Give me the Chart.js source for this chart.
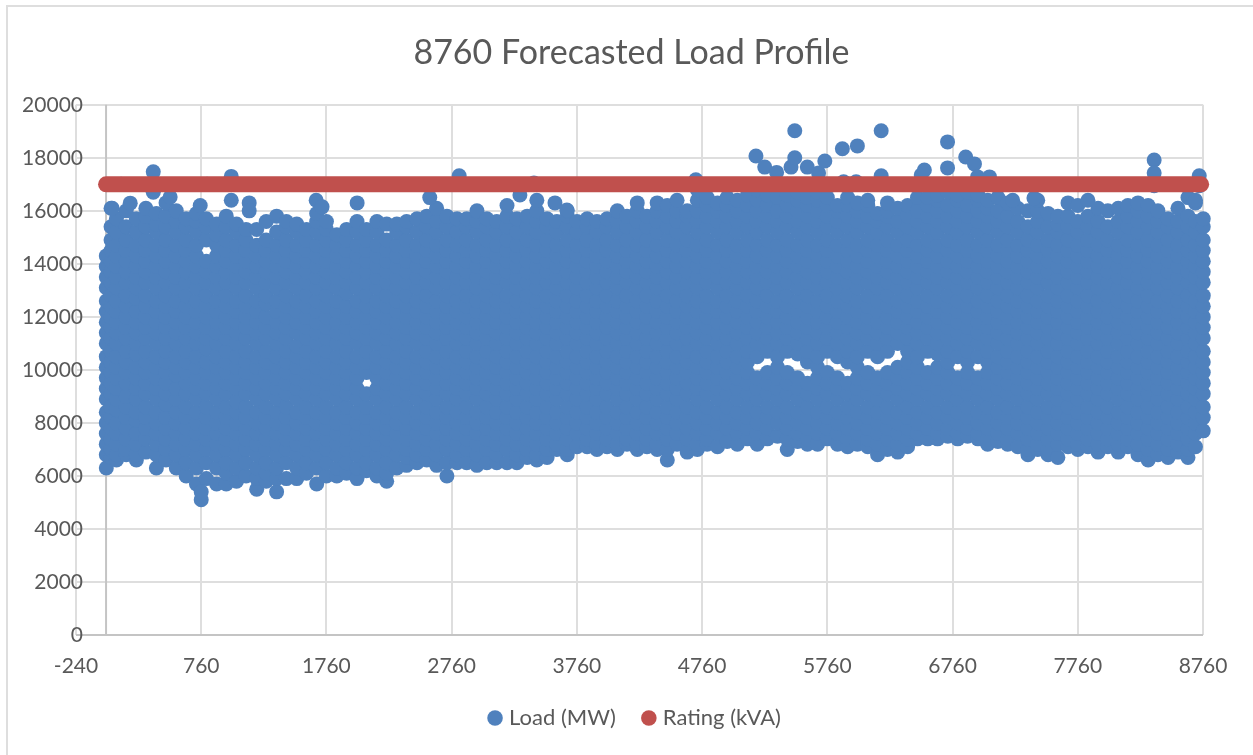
<!DOCTYPE html>
<html>
<head>
<meta charset="utf-8">
<title>8760 Forecasted Load Profile</title>
<script src="https://cdn.jsdelivr.net/npm/chart.js@4"></script>
<style>
html, body { margin: 0; padding: 0; background: #fff; overflow: hidden; }
canvas { display: block; }
</style>
</head>
<body>
<canvas id="chart1" width="1253" height="755"></canvas>
<script>
// hour of the year for each run of points
const hourColumns = [2,40,83,161,242,318,402,479,561,640,722,801,883,960,1042,1118,1203,1279,1362,1440,1523,1601,1682,1760,1843,1921,2004,2080,2163,2241,2322,2400,2483,2561,2640,2722,2803,2880,2962,3041,3120,3202,3281,3363,3440,3522,3600,3683,3761,3842,3920,4001,4083,4160,4242,4320,4401,4482,4560,4641,4722,4800,4883,4960,5041,5122,5200,5281,5362,5440,5523,5601,5682,5760,5841,5922,6000,6083,6161,6240,6322,6401,6480,6562,6640,6722,6801,6880,6963,7040,7122,7200,7281,7362,7440,7523,7601,7682,7760,7841,7922,8000,8083,8160,8241,8322,8400,8481,8560,8640,8700,8762];

// load at those hours, in hundreds of MW, one row per hour above
const loadColumns = [
[63,68,72,76,80,84,89,93,97,101,105,110,114,118,122,126,131,135,139,143],
[67,70,74,78,82,86,91,95,99,103,107,112,116,120,124,128,133,137,141,145,149,154,161],
[66,68,72,76,80,85,89,93,97,101,105,110,114,118,122,126,131,135,139,143,147,152,157],
[68,70,74,78,82,86,90,95,99,103,107,112,116,120,124,128,133,137,141,145,149,154,160],
[66,68,72,76,81,84,89,93,97,101,106,110,114,118,122,127,131,135,139,143,147,152,157],
[69,74,78,82,86,91,95,99,103,107,112,116,120,124,128,133,137,141,145,149,154,158,161],
[63,68,72,76,80,84,89,93,97,101,105,110,114,118,122,126,131,135,139,143,147,152,155,159],
[66,70,74,78,82,87,91,95,99,103,107,112,116,120,124,128,133,137,141,145,149,154,158,163],
[63,68,72,76,80,84,89,93,98,101,105,110,114,118,122,126,131,135,139,143,147,152,156,160],
[60,65,70,74,78,82,86,91,95,99,103,107,112,116,120,124,128,133,137,141,145,149,154,157],
[57,63,68,72,76,80,84,89,93,97,101,105,110,114,118,122,126,131,135,139,143,147,152,156,159],
[59,65,70,74,78,82,86,91,95,99,103,108,112,116,120,124,128,133,137,141,149,154,157],
[57,63,68,72,76,80,84,89,93,97,101,105,110,114,118,122,126,131,135,139,143,147,151,155],
[57,61,65,70,74,78,82,86,91,95,99,103,107,112,116,120,124,128,133,137,141,145,149,154,158],
[58,63,68,72,76,80,84,88,93,97,101,105,110,114,118,122,126,131,135,139,143,147,152,155],
[60,65,70,74,78,82,86,91,95,99,103,107,112,116,120,124,128,133,137,141,145,149,153],
[55,59,63,68,72,76,80,84,89,93,97,101,105,110,114,118,122,126,131,135,139,143,147,153],
[58,61,65,70,74,78,82,86,91,95,99,103,107,112,116,120,125,128,133,137,141,145,149,156],
[54,59,63,68,72,76,80,84,89,93,97,101,105,110,114,118,122,126,131,135,139,143,147,152,158],
[59,65,70,74,78,82,86,91,95,99,103,107,112,116,120,124,128,133,137,141,145,149,154,156],
[59,63,68,72,76,80,84,89,93,97,101,105,109,114,118,122,126,131,135,139,143,147,152,155],
[61,65,70,74,78,82,86,91,95,99,103,107,112,116,120,124,128,133,137,141,145,149,153],
[57,63,68,72,76,80,84,89,93,97,101,105,110,114,118,122,126,131,135,139,143,147,152,156,159],
[60,65,70,74,78,82,86,91,95,99,103,107,112,116,120,124,128,133,137,141,145,149,153,156],
[60,63,68,72,76,80,84,89,93,97,101,105,110,114,118,122,126,131,135,139,143,147,151],
[61,65,70,74,78,82,86,91,95,99,103,107,112,116,120,124,129,133,137,141,145,149,153],
[59,63,68,72,76,80,84,89,93,97,101,105,110,114,118,122,126,131,135,139,143,147,152,156],
[62,65,70,74,78,82,86,91,99,103,107,112,116,120,124,128,133,137,141,145,149,153],
[60,63,68,72,76,80,84,89,93,97,101,105,110,114,118,122,126,131,135,139,143,147,152,156],
[58,61,65,70,74,78,82,86,91,95,99,103,107,112,116,120,124,128,133,137,141,145,149,155],
[63,68,72,76,80,84,89,93,97,101,105,110,114,118,122,126,131,135,139,143,147,152,155],
[64,67,70,74,78,82,86,91,95,99,103,107,112,116,120,124,128,133,137,141,145,149,154,156],
[65,68,72,76,80,84,89,93,97,101,105,110,114,118,122,126,131,135,139,143,147,152,157],
[66,70,74,78,82,86,91,95,99,103,107,112,116,120,124,128,133,137,141,145,149,154,158],
[64,68,72,76,80,84,89,93,97,101,105,110,114,118,122,126,131,135,139,143,147,152,156,161],
[60,65,70,74,78,82,86,91,95,99,103,107,112,116,120,124,128,133,137,141,145,149,154,158],
[65,68,72,76,80,84,89,93,97,101,105,110,114,118,122,126,131,135,139,143,147,152,157],
[65,70,74,78,82,86,91,95,99,103,107,112,116,120,124,128,133,137,141,145,149,154,157],
[64,68,72,76,80,84,89,93,97,101,105,110,114,118,122,126,131,135,139,143,147,152,156,160],
[65,70,74,78,82,86,91,95,99,103,107,112,116,120,124,128,133,137,141,145,149,154,157],
[65,68,72,76,80,84,89,93,97,101,105,110,114,118,122,126,131,135,139,143,147,152,156],
[65,70,74,78,82,86,91,95,99,103,107,112,116,120,124,128,133,137,141,145,149,154,158,162],
[65,68,72,76,80,84,89,93,97,101,105,110,114,118,122,126,131,135,139,143,147,152,157],
[67,70,74,78,82,86,91,95,99,103,107,112,116,120,124,128,133,137,141,145,149,154,158],
[66,68,72,76,80,84,89,93,97,101,105,110,114,118,122,126,131,135,139,143,147,152,156,160,164],
[67,70,74,78,82,86,91,95,99,103,107,112,116,120,124,128,133,137,141,145,149,154,157],
[70,72,76,80,84,89,93,97,101,105,110,114,118,122,126,131,135,139,143,147,152,156],
[68,70,74,78,82,86,91,95,99,103,107,112,116,120,124,128,133,137,141,145,149,154,158,160],
[71,76,80,84,89,93,97,101,105,110,114,118,122,126,131,135,139,143,147,152,156],
[71,74,78,82,86,91,95,99,103,107,112,116,120,124,128,133,137,141,145,149,154,157],
[70,72,76,80,84,89,93,97,101,105,110,114,118,122,126,131,135,139,143,147,152,156],
[71,74,78,82,86,91,95,99,103,107,112,116,120,124,128,133,137,141,145,149,154,157],
[70,72,76,80,84,89,93,97,101,105,110,114,118,122,126,131,135,139,143,147,152,156,160],
[72,74,78,82,86,91,95,99,103,107,112,116,120,124,128,133,137,141,145,149,154,158],
[70,72,76,80,84,89,93,97,101,105,110,114,118,122,126,131,135,139,143,147,152,156,160,163],
[71,74,78,82,86,91,95,99,103,107,112,116,120,124,128,133,137,141,145,149,154,158],
[70,72,76,80,84,89,93,97,101,105,110,114,118,122,126,131,135,139,143,147,152,156,160,163],
[66,70,74,78,82,86,91,95,99,103,107,112,116,120,124,128,133,137,141,145,149,154,158,162],
[72,76,80,84,89,93,97,101,105,110,114,118,122,126,131,135,139,143,147,152,156,160,164],
[69,74,78,82,86,91,95,99,103,107,112,116,120,124,128,133,137,141,145,149,154,158,160],
[70,72,76,80,84,89,93,97,101,105,110,114,118,122,126,131,135,139,143,147,152,156,160,164,168],
[72,74,78,82,86,91,95,99,103,107,112,116,120,124,128,133,137,141,145,149,154,158,162,165],
[71,76,80,84,89,93,97,101,105,110,114,118,122,126,131,135,139,143,147,152,156,160,163],
[73,78,82,86,91,95,99,103,107,112,116,120,124,128,133,137,141,145,149,154,158,162,165],
[72,76,80,84,89,93,97,101,105,110,114,118,122,126,131,135,139,143,147,152,156,160,164],
[74,78,82,86,91,95,99,103,107,112,116,120,124,128,133,137,141,145,149,154,158,162,166],
[72,76,80,84,89,93,97,105,110,114,118,122,126,131,135,139,143,147,152,156,160,164,168],
[74,78,82,86,91,95,99,107,112,116,120,124,128,133,137,141,145,149,154,158,162,166],
[75,80,84,89,93,97,101,105,110,114,118,122,126,131,135,139,143,147,152,156,160,165],
[70,74,78,82,86,91,95,99,107,112,116,120,124,128,133,137,141,145,149,154,158,162,166,170],
[73,76,80,84,89,93,97,106,110,114,118,122,126,131,135,139,143,147,152,156,160,164,167],
[72,74,78,82,86,91,95,103,107,112,116,120,124,128,133,137,141,145,149,154,158,162,165],
[72,76,80,84,89,93,97,101,105,110,114,118,122,126,131,135,139,143,147,152,156,160,164,167],
[74,78,82,86,91,95,99,107,112,116,120,124,128,133,137,141,145,149,154,158,162,165],
[72,76,80,84,89,93,97,105,110,114,118,122,126,131,135,139,143,147,152,156,160,162],
[71,74,78,82,86,91,95,103,107,112,116,120,124,128,133,137,141,145,149,154,158,162,165],
[72,76,80,84,89,93,97,101,105,110,114,118,122,126,131,135,139,143,147,152,156,160,163],
[71,74,78,82,86,91,95,99,107,112,116,120,124,128,133,137,141,145,149,154,158,162,164],
[68,72,76,80,84,89,93,97,105,110,114,118,122,126,131,135,139,143,147,152,156,159],
[70,74,78,82,86,91,95,99,107,112,116,120,124,128,133,137,141,145,149,154,158,160,163],
[69,72,76,80,84,89,93,97,101,110,114,118,122,126,131,135,139,143,147,152,156,161],
[71,74,78,82,86,91,95,99,103,107,112,116,120,124,128,133,137,141,145,149,154,158,162],
[74,76,80,84,89,93,97,101,105,110,114,118,122,126,131,135,139,143,147,152,156,160,165],
[74,78,82,86,91,95,99,107,112,116,120,124,128,133,137,141,145,149,154,158,162,165],
[74,76,80,84,89,93,97,101,106,110,114,118,122,126,131,135,139,143,147,152,156,160,164,166],
[75,78,82,86,91,95,99,103,107,112,116,120,124,128,133,137,141,145,149,154,158,162,167],
[74,76,80,84,89,93,97,105,110,114,118,122,126,131,135,139,143,147,152,156,160,164,166],
[75,78,82,86,91,95,99,103,107,112,116,120,124,128,133,137,141,145,149,154,158,162,167],
[74,76,80,84,89,93,97,105,110,114,118,122,126,131,135,139,143,147,152,156,160,164,166],
[72,74,78,82,86,91,95,99,103,107,112,116,120,124,128,133,137,141,145,149,154,158,161,164],
[73,76,80,84,89,93,97,101,105,110,114,118,122,126,131,135,139,143,147,152,156,160,165],
[72,74,78,82,86,91,95,99,103,107,112,116,120,124,128,133,137,141,145,149,154,158,163],
[71,76,80,84,89,93,97,101,105,110,114,118,122,126,131,135,139,143,147,152,156,161],
[68,70,74,78,82,86,91,95,99,103,107,112,116,120,124,128,133,137,141,145,149,154,160],
[70,72,76,80,84,89,93,97,101,105,110,114,118,122,126,131,135,139,143,147,152,156,160,164],
[68,70,74,78,82,86,91,95,99,103,107,112,116,120,124,128,133,137,141,145,149,154,159],
[67,72,76,80,84,89,93,97,101,105,110,114,118,122,126,131,135,139,143,147,152,155,158],
[71,74,78,82,86,91,95,99,103,107,112,116,120,124,128,133,137,141,145,149,154,158,163],
[70,72,76,80,84,89,93,97,101,105,110,114,118,122,126,131,135,139,143,147,152,156,162],
[71,74,78,82,86,91,95,99,103,107,112,116,120,124,128,133,137,141,145,149,154,158,164],
[69,72,76,80,84,89,93,97,101,105,110,114,118,122,126,131,135,139,143,147,152,156,161],
[71,74,78,82,86,91,95,99,103,107,112,116,120,124,128,133,137,141,145,149,154,160],
[69,72,76,80,84,89,93,97,101,105,110,114,118,122,126,131,135,139,143,147,152,156,161],
[71,74,78,82,86,91,95,99,103,107,112,116,120,124,128,133,137,141,145,149,154,158,162],
[68,72,76,80,84,89,93,97,101,105,110,114,118,122,126,131,135,139,143,147,152,156,160,163],
[66,70,74,78,82,86,91,95,99,103,107,112,116,120,124,128,133,137,141,145,149,154,158,162],
[68,72,76,80,84,89,93,97,101,105,110,114,118,122,126,131,135,139,143,147,152,156,160],
[67,70,74,78,82,86,91,95,99,103,107,112,116,120,124,128,133,137,141,145,149,154,157],
[69,72,76,80,84,89,93,97,101,105,110,114,118,122,126,131,135,139,143,147,152,156,161],
[67,70,74,78,82,86,91,95,99,103,107,112,116,120,124,128,133,137,141,145,149,154,158,165],
[71,76,80,84,89,93,97,101,105,110,114,118,122,126,131,135,139,143,147,152,156,163],
[77,82,86,91,95,99,103,107,112,116,120,124,128,133,137,141,145,149,154,157]
];

// single points that stand clear of the cloud
const outlierHours = [121,377,377,760,760,807,1000,1000,49,193,512,752,1143,1143,1678,1725,2005,2820,2585,3305,3417,3585,3680,4710,5190,5260,5355,5470,5500,5500,5600,5690,5740,5880,6000,6190,6190,5890,5990,6510,6535,6720,6720,6865,6935,6960,7055,7240,7410,8370,8370,8370,8730,8730,8700];
const outlierLoads = [17000,17470,16700,5100,5400,17000,17300,16400,16100,16290,16520,16200,16300,16000,16400,16150,16300,17320,16500,16600,17050,16300,16030,17170,18070,17650,17450,17650,19020,18000,17650,17430,17880,18340,18450,19020,17320,17100,17100,17350,17540,18600,17620,18030,17770,17280,17280,16400,16480,17920,17430,16950,17320,16950,16400];

const ratingHours = [0,8745];
const ratingValues = [17000,17000];

const xTickStart = -240, xTickEnd = 8760, xTickStep = 1000;

const loadPoints = [];
hourColumns.forEach((hour, i) => {
    loadColumns[i].forEach(v => loadPoints.push({ x: hour, y: v * 100 }));
});
outlierHours.forEach((hour, i) => loadPoints.push({ x: hour, y: outlierLoads[i] }));

const ratingPoints = ratingHours.map((hour, i) => ({ x: hour, y: ratingValues[i] }));

const font = 'Lato, "Open Sans", sans-serif';
const textColor = '#595959';
const gridColor = '#dedede';
const axisColor = '#c4c4c4';

// chart frame, y labels that run into the plot, and the vertical axis line at hour 0
const framePlugin = {
    id: 'frame',
    afterLayout(chart) {
        chart.scales.y.left = 0;
        chart.scales.y.right = 83;
        chart.legend.left += 5;
        chart.legend.right += 5;
    },
    beforeDatasetsDraw(chart) {
        const c = chart.ctx;
        const xZero = chart.scales.x.getPixelForValue(0);
        c.save();
        c.strokeStyle = axisColor;
        c.lineWidth = 2;
        c.beginPath();
        c.moveTo(xZero, chart.chartArea.top);
        c.lineTo(xZero, chart.chartArea.bottom);
        c.stroke();
        c.restore();
    },
    beforeDraw(chart) {
        const c = chart.ctx;
        c.save();
        c.strokeStyle = gridColor;
        c.lineWidth = 2;
        c.beginPath();
        c.moveTo(7, chart.height);
        c.lineTo(7, 6);
        c.lineTo(chart.width, 6);
        c.stroke();
        c.restore();
    }
};

var ctx = document.getElementById('chart1').getContext('2d');
var myChart = new Chart(ctx, {
    type: 'scatter',
    plugins: [framePlugin],
    data: {
        datasets: [{
            label: 'Load (MW)',
            data: loadPoints,
            backgroundColor: '#4f81bd',
            borderColor: '#4f81bd',
            pointRadius: 7.5,
            pointBorderWidth: 0,
            clip: false,
            order: 1
        }, {
            label: 'Rating (kVA)',
            data: ratingPoints,
            showLine: true,
            backgroundColor: '#c0504d',
            borderColor: '#c0504d',
            borderWidth: 16,
            borderCapStyle: 'round',
            pointRadius: 0,
            clip: false,
            order: 0
        }]
    },
    options: {
        responsive: false,
        animation: false,
        layout: { padding: { left: 60, right: 50, top: 0, bottom: 16 } },
        scales: {
            x: {
                type: 'linear',
                min: xTickStart,
                max: xTickEnd,
                afterBuildTicks: scale => {
                    scale.ticks = [];
                    for (let t = xTickStart; t <= xTickEnd; t += xTickStep) scale.ticks.push({ value: t });
                },
                grid: { color: gridColor, lineWidth: 2, drawTicks: false },
                border: { display: false },
                ticks: {
                    color: textColor,
                    font: { family: font, size: 21 },
                    padding: 19,
                    maxRotation: 0,
                    autoSkip: false,
                    callback: v => String(v)
                },
                afterFit: scale => { scale.height = 42; }
            },
            y: {
                min: 0,
                max: 20000,
                grid: {
                    color: c => c.tick.value === 0 ? axisColor : gridColor,
                    lineWidth: 2,
                    drawTicks: false
                },
                border: { display: false },
                ticks: {
                    stepSize: 2000,
                    color: textColor,
                    font: { family: font, size: 21 },
                    padding: 0,
                    callback: v => String(v)
                },
                afterFit: scale => { scale.width = 16; }
            }
        },
        plugins: {
            title: {
                display: true,
                text: '8760 Forecasted Load Profile',
                color: textColor,
                font: { family: font, size: 34, weight: 'normal' },
                padding: { top: 33, bottom: 31 }
            },
            legend: {
                position: 'bottom',
                labels: {
                    usePointStyle: true,
                    pointStyle: 'circle',
                    boxWidth: 6,
                    boxHeight: 11,
                    padding: 30,
                    color: textColor,
                    font: { family: font, size: 22 },
                    generateLabels: chart => chart.data.datasets.map((d, i) => ({
                        text: d.label,
                        fontColor: textColor,
                        fillStyle: d.backgroundColor,
                        strokeStyle: d.backgroundColor,
                        lineWidth: 0,
                        pointStyle: 'circle',
                        datasetIndex: i
                    }))
                }
            },
            tooltip: { enabled: false }
        }
    }
});
</script>
</body>
</html>
